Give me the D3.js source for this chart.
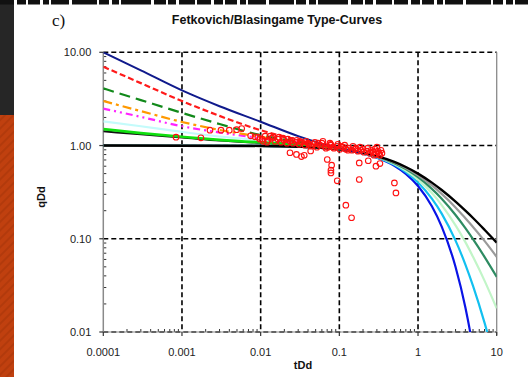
<!DOCTYPE html>
<html>
<head>
<meta charset="utf-8">
<script src="https://cdn.jsdelivr.net/npm/d3@7"></script>
<style>
  body { margin: 0; background: #fff; }
  svg { display: block; }
</style>
</head>
<body>
<script>
// transient stems
var tStem = [0.0001, 0.0003, 0.001, 0.003, 0.01, 0.03, 0.1, 0.2];
var stemNavy    = [10, 6.4, 3.9, 2.64, 1.8, 1.26, 0.93, 0.83];
var stemRed     = [7.0, 4.67, 3.0, 2.08, 1.46, 1.15, 0.93, 0.83];
var stemGreen   = [4.1, 3.07, 2.24, 1.70, 1.29, 1.10, 0.93, 0.83];
var stemOrange  = [3.0, 2.34, 1.79, 1.47, 1.24, 1.08, 0.93, 0.83];
var stemMagenta = [2.49, 2.03, 1.61, 1.38, 1.2, 1.07, 0.93, 0.83];
var stemCyan    = [1.82, 1.61, 1.40, 1.25, 1.14, 1.05, 0.93, 0.83];
var stemLime    = [1.5, 1.36, 1.24, 1.15, 1.08, 1.03, 0.93, 0.83];
var stemBlack   = [1.42, 1.32, 1.22, 1.13, 1.07, 1.02, 0.93, 0.83];

// depletion (Arps) curves
var tArps = [0.0001, 0.01, 0.03, 0.1, 0.2, 0.3, 0.5, 0.7, 1, 1.5, 2, 3, 4, 5, 7, 10];
var arpsB00 = [1, 0.99, 0.970, 0.905, 0.819, 0.741, 0.607, 0.497, 0.368, 0.223, 0.135, 0.0498, 0.0183, 0.0067, 0.0009, 0.00005];
var arpsB02 = [1, 0.99, 0.970, 0.906, 0.822, 0.747, 0.621, 0.519, 0.402, 0.269, 0.186, 0.0954, 0.0529, 0.0313, 0.0126, 0.0041];
var arpsB04 = [1, 0.99, 0.970, 0.907, 0.825, 0.753, 0.634, 0.540, 0.431, 0.309, 0.230, 0.139, 0.092, 0.064, 0.0356, 0.0179];
var arpsB06 = [1, 0.99, 0.970, 0.908, 0.828, 0.759, 0.646, 0.558, 0.457, 0.343, 0.269, 0.180, 0.130, 0.099, 0.064, 0.039];
var arpsB08 = [1, 0.99, 0.970, 0.908, 0.831, 0.764, 0.657, 0.574, 0.480, 0.373, 0.303, 0.217, 0.166, 0.134, 0.095, 0.064];
var arpsB10 = [1, 0.99, 0.971, 0.909, 0.833, 0.769, 0.667, 0.588, 0.5, 0.4, 0.333, 0.25, 0.2, 0.167, 0.125, 0.0909];

// field data points
var dataT = [0.0092,0.0104,0.0114,0.0124,0.0139,0.0152,0.0166,0.0181,0.0198,0.0216,0.0236,0.0257,0.0281,0.0307,0.0335,0.0366,0.0399,0.0436,0.0475,0.0519,0.0567,0.0601,0.0656,0.0716,0.0782,0.0853,0.0931,0.1016,0.111,0.121,0.132,0.145,0.158,0.172,0.188,0.205,0.224,0.245,0.267,0.292,0.309,0.328,0.348,
  0.0108,0.0132,0.0171,0.0222,0.0289,0.0377,0.0489,0.0618,0.0760,0.0958,0.117,0.149,0.183,0.230,0.283,0.338,
  0.0098,0.0120,0.0144,0.0192,0.0251,0.0316,0.0411,0.0535,0.0676,0.083,0.105,0.1285,0.1625,0.1995,0.252,0.300,0.318,0.275,
  0.00084,0.00174,0.00227,0.00313,0.00399,0.00495,0.00574,0.00746,0.00847,
  0.0236,0.0285,0.033,0.0358,0.0432,0.0702,0.0798,0.0782,0.0782,0.094,0.121,0.143,0.179,0.179,0.233,0.27,0.292,0.328,0.501,0.524,0.0775];
var dataQ = [1.23,1.17,1.26,1.14,1.20,1.11,1.17,1.085,1.14,1.06,1.11,1.06,1.085,1.03,1.085,1.01,1.06,0.983,1.03,0.96,1.01,1.06,0.983,0.96,1.01,0.936,0.983,0.913,0.96,0.913,0.936,0.89,0.913,0.869,0.89,0.848,0.869,0.827,0.848,0.807,0.869,0.787,0.827,
  1.11,1.26,1.23,1.17,1.14,1.11,1.085,1.11,1.06,1.03,1.01,0.983,0.96,0.936,0.913,0.89,
  1.17,1.085,1.23,1.20,1.14,1.11,1.03,1.06,0.936,0.96,0.983,0.89,0.936,0.913,0.89,0.96,0.827,0.787,
  1.23,1.21,1.46,1.46,1.46,1.48,1.52,1.27,1.24,
  0.837,0.803,0.762,0.787,0.875,0.708,0.615,0.544,0.508,0.418,0.229,0.168,0.651,0.432,0.687,0.854,0.60,0.641,0.397,0.31,1.03];

var xTicks = [0.0001, 0.001, 0.01, 0.1, 1, 10];
var xTickLabels = ["0.0001", "0.001", "0.01", "0.1", "1", "10"];
var yTicks = [0.01, 0.1, 1, 10];
var yTickLabels = ["0.01", "0.10", "1.00", "10.00"];

var w = 528, h = 377;
var plotL = 103.3, plotR = 496.7, plotT = 52.3, plotB = 332;

var svg = d3.select("body").append("svg").attr("width", w).attr("height", h);
var defs = svg.append("defs");

// slide decoration
var pat = defs.append("pattern").attr("id", "stripes").attr("patternUnits", "userSpaceOnUse")
  .attr("width", 6).attr("height", 6).attr("patternTransform", "rotate(45)");
pat.append("rect").attr("width", 6).attr("height", 6).attr("fill", "#c0400f");
pat.append("rect").attr("width", 2).attr("height", 6).attr("fill", "#b23a0c");

svg.append("rect").attr("x", 0).attr("y", 0).attr("width", 14).attr("height", 115).attr("fill", "#262626");
svg.append("rect").attr("x", 0).attr("y", 115).attr("width", 14).attr("height", h - 115).attr("fill", "url(#stripes)");
svg.append("line").attr("x1", 0).attr("x2", w).attr("y1", 2).attr("y2", 2)
  .attr("stroke", "#111").attr("stroke-width", 5)
  .attr("stroke-dasharray", "14,3,9,2,12,3,6,2,18,3,25,2,10,3,7,2,30,3,12,2,8,3,16,2");

var clip = defs.append("clipPath").attr("id", "plotclip");
clip.append("rect").attr("x", plotL).attr("y", plotT).attr("width", plotR - plotL).attr("height", plotB - plotT);

var xScale = d3.scaleLog().domain([0.0001, 10]).range([plotL, plotR]);
var yScale = d3.scaleLog().domain([0.01, 10]).range([plotB, plotT]);

// minor ticks
var minorX = [], minorY = [];
[0.0001, 0.001, 0.01, 0.1, 1].forEach(function(d) {
  for (var k = 2; k <= 9; k++) minorX.push(d * k);
});
[0.01, 0.1, 1].forEach(function(d) {
  for (var k = 2; k <= 9; k++) minorY.push(d * k);
});

var axisCol = "#8a8a8a";

svg.append("g").selectAll("line").data(minorX).enter().append("line")
  .attr("x1", function(d) { return xScale(d); }).attr("x2", function(d) { return xScale(d); })
  .attr("y1", plotB).attr("y2", plotB - 3).attr("stroke", "#333").attr("stroke-width", 1);
svg.append("g").selectAll("line").data(minorY).enter().append("line")
  .attr("y1", function(d) { return yScale(d); }).attr("y2", function(d) { return yScale(d); })
  .attr("x1", plotL).attr("x2", plotL + 3).attr("stroke", "#333").attr("stroke-width", 1);

// grid
svg.append("g").selectAll("line").data(xTicks.slice(1, 5)).enter().append("line")
  .attr("x1", function(d) { return xScale(d); }).attr("x2", function(d) { return xScale(d); })
  .attr("y1", plotT).attr("y2", plotB)
  .attr("stroke", "#000").attr("stroke-width", 1.6).attr("stroke-dasharray", "5,3");
svg.append("g").selectAll("line").data(yTicks).enter().append("line")
  .attr("y1", function(d) { return yScale(d); }).attr("y2", function(d) { return yScale(d); })
  .attr("x1", plotL).attr("x2", plotR)
  .attr("stroke", "#000").attr("stroke-width", 1.6).attr("stroke-dasharray", "5,3");

// frame
svg.append("line").attr("x1", plotL).attr("x2", plotL).attr("y1", plotT).attr("y2", plotB)
  .attr("stroke", axisCol).attr("stroke-width", 1.5);
svg.append("line").attr("x1", plotR).attr("x2", plotR).attr("y1", plotT).attr("y2", plotB + 3)
  .attr("stroke", axisCol).attr("stroke-width", 1.3);
svg.append("line").attr("x1", plotL).attr("x2", plotR).attr("y1", plotB).attr("y2", plotB)
  .attr("stroke", axisCol).attr("stroke-width", 1.2);

// major ticks
svg.append("g").selectAll("line").data(yTicks).enter().append("line")
  .attr("y1", function(d) { return yScale(d); }).attr("y2", function(d) { return yScale(d); })
  .attr("x1", plotL - 4).attr("x2", plotL).attr("stroke", "#333").attr("stroke-width", 1.2);
svg.append("g").selectAll("line").data(xTicks).enter().append("line")
  .attr("x1", function(d) { return xScale(d); }).attr("x2", function(d) { return xScale(d); })
  .attr("y1", plotB).attr("y2", plotB + 4).attr("stroke", "#333").attr("stroke-width", 1.2);

// tick labels
svg.append("g").selectAll("text").data(yTicks).enter().append("text")
  .attr("x", plotL - 12).attr("y", function(d) { return yScale(d) + 4; })
  .attr("text-anchor", "end").attr("font-family", "Liberation Sans, Arial, sans-serif")
  .attr("font-size", 11).attr("fill", "#222")
  .text(function(d, i) { return yTickLabels[i]; });
svg.append("g").selectAll("text").data(xTicks).enter().append("text")
  .attr("x", function(d) { return xScale(d); }).attr("y", plotB + 24)
  .attr("text-anchor", "middle").attr("font-family", "Liberation Sans, Arial, sans-serif")
  .attr("font-size", 11).attr("fill", "#222")
  .text(function(d, i) { return xTickLabels[i]; });

// curves
var plot = svg.append("g").attr("clip-path", "url(#plotclip)");
var line = d3.line()
  .x(function(d) { return xScale(d[0]); })
  .y(function(d) { return yScale(d[1]); })
  .curve(d3.curveMonotoneX);

function drawCurve(ts, qs, color, width, dash) {
  var pts = ts.map(function(t, i) { return [t, qs[i]]; });
  plot.append("path").datum(pts).attr("d", line)
    .attr("fill", "none").attr("stroke", color).attr("stroke-width", width)
    .attr("stroke-dasharray", dash || null);
}

drawCurve(tArps, arpsB00, "#0a14e6", 2.2);
drawCurve(tArps, arpsB02, "#12c0f0", 2.2);
drawCurve(tArps, arpsB04, "#c2f5c8", 2.2);
drawCurve(tArps, arpsB06, "#2e8b62", 2.2);
drawCurve(tArps, arpsB08, "#9a9a9a", 2.2);
drawCurve(tArps, arpsB10, "#000000", 2.4);

drawCurve(tStem, stemBlack, "#111111", 2);
drawCurve(tStem, stemCyan, "#c4fbfb", 2.2);
drawCurve(tStem, stemLime, "#10e010", 2.6);
drawCurve(tStem, stemMagenta, "#ff22ff", 2.2, "7,4,2,4,2,4");
drawCurve(tStem, stemOrange, "#ff9900", 2.2, "9,4,3,4");
drawCurve(tStem, stemGreen, "#11891a", 2.2, "11,6");
drawCurve(tStem, stemRed, "#ff1a1a", 2.2, "6,3");
drawCurve(tStem, stemNavy, "#101a8c", 2);

// data points
svg.append("g").selectAll("circle").data(dataT).enter().append("circle")
  .attr("cx", function(d) { return xScale(d); })
  .attr("cy", function(d, i) { return yScale(dataQ[i]); })
  .attr("r", 2.8).attr("fill", "none").attr("stroke", "#ff1010").attr("stroke-width", 1.1);

// titles
svg.append("text").attr("x", 277).attr("y", 24).attr("text-anchor", "middle")
  .attr("font-family", "Liberation Sans, Arial, sans-serif").attr("font-weight", "bold")
  .attr("font-size", 12.5).attr("fill", "#111").text("Fetkovich/Blasingame Type-Curves");
svg.append("text").attr("x", 52).attr("y", 26)
  .attr("font-family", "Liberation Serif, Times New Roman, serif")
  .attr("font-size", 17).attr("fill", "#111").text("c)");
svg.append("text").attr("x", 303).attr("y", 369).attr("text-anchor", "middle")
  .attr("font-family", "Liberation Sans, Arial, sans-serif").attr("font-weight", "bold")
  .attr("font-size", 11).attr("fill", "#111").text("tDd");
svg.append("text").attr("transform", "translate(45,197) rotate(-90)").attr("text-anchor", "middle")
  .attr("font-family", "Liberation Sans, Arial, sans-serif").attr("font-weight", "bold")
  .attr("font-size", 11).attr("fill", "#111").text("qDd");
</script>
</body>
</html>
